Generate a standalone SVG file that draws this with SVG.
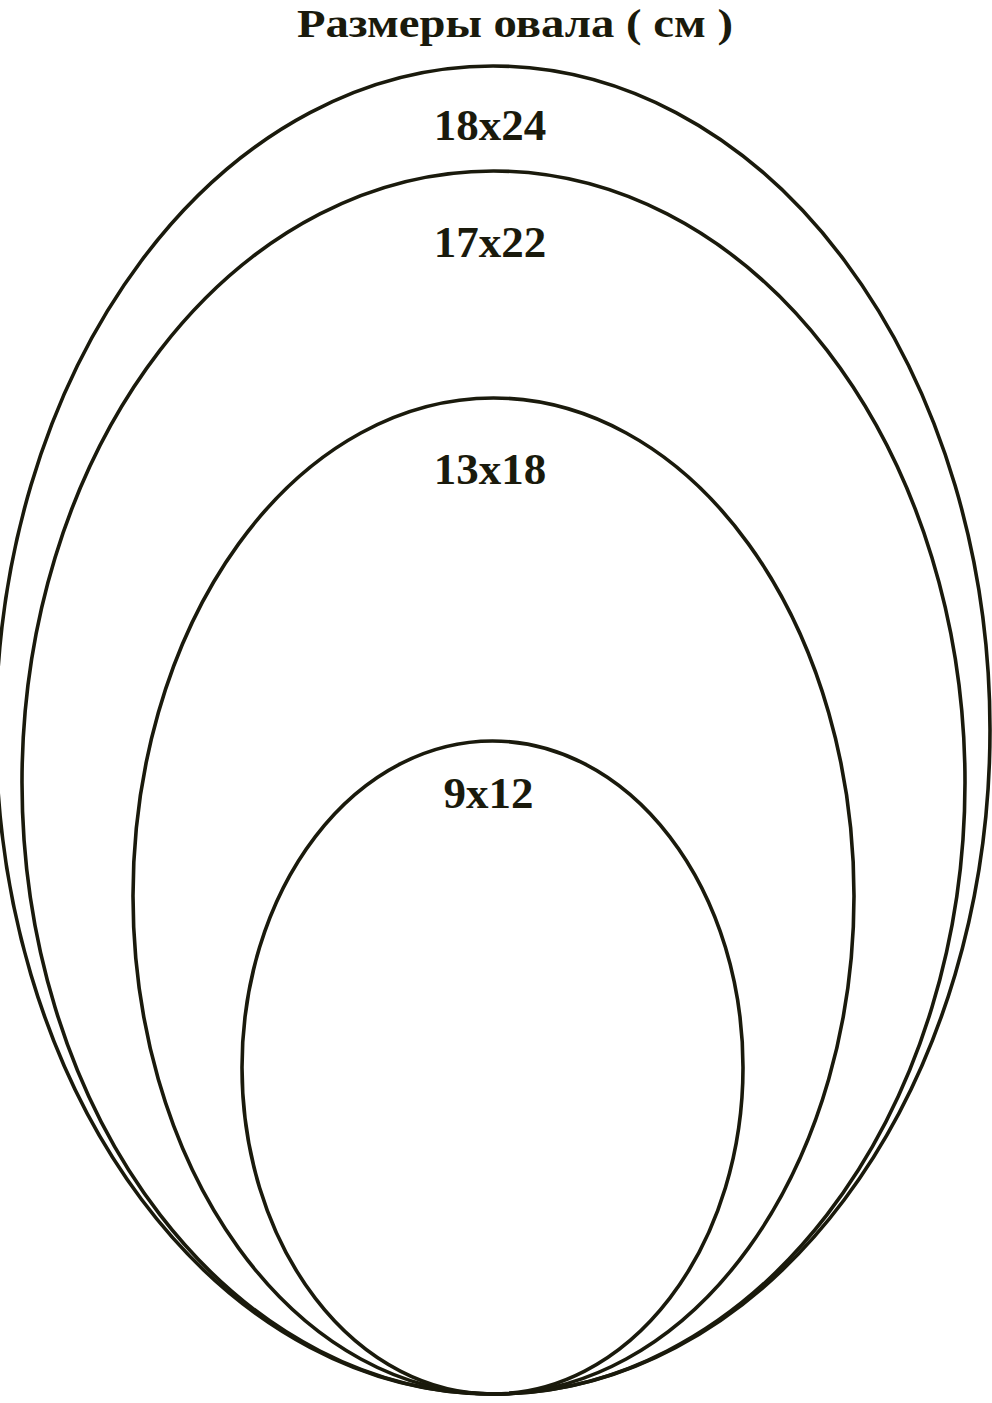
<svg xmlns="http://www.w3.org/2000/svg" width="992" height="1403" viewBox="0 0 992 1403">
<style>
.o{fill:none;stroke:#1a1a0c;stroke-width:3.6}
.t{font-family:"Liberation Serif","Times New Roman",serif;font-weight:bold;fill:#1a1a0c;text-anchor:middle}
.n{font-size:45px}
</style>
<rect width="992" height="1403" fill="#ffffff"/>
<text class="t" x="515" y="37" font-size="41" textLength="436" lengthAdjust="spacingAndGlyphs">Размеры овала ( см )</text>
<g id="oval-18x24">
<ellipse class="o" cx="493" cy="730" rx="497" ry="664"/>
<text class="t n" x="490" y="140">18x24</text>
</g>
<g id="oval-17x22">
<ellipse class="o" cx="493.5" cy="782.5" rx="471.5" ry="611.5"/>
<text class="t n" x="490" y="257">17x22</text>
</g>
<g id="oval-13x18">
<ellipse class="o" cx="493.5" cy="896" rx="360.5" ry="498"/>
<text class="t n" x="490" y="484">13x18</text>
</g>
<g id="oval-9x12">
<ellipse class="o" cx="492.5" cy="1067.5" rx="250.5" ry="326.5"/>
<text class="t n" x="488.5" y="808">9x12</text>
</g>
</svg>
